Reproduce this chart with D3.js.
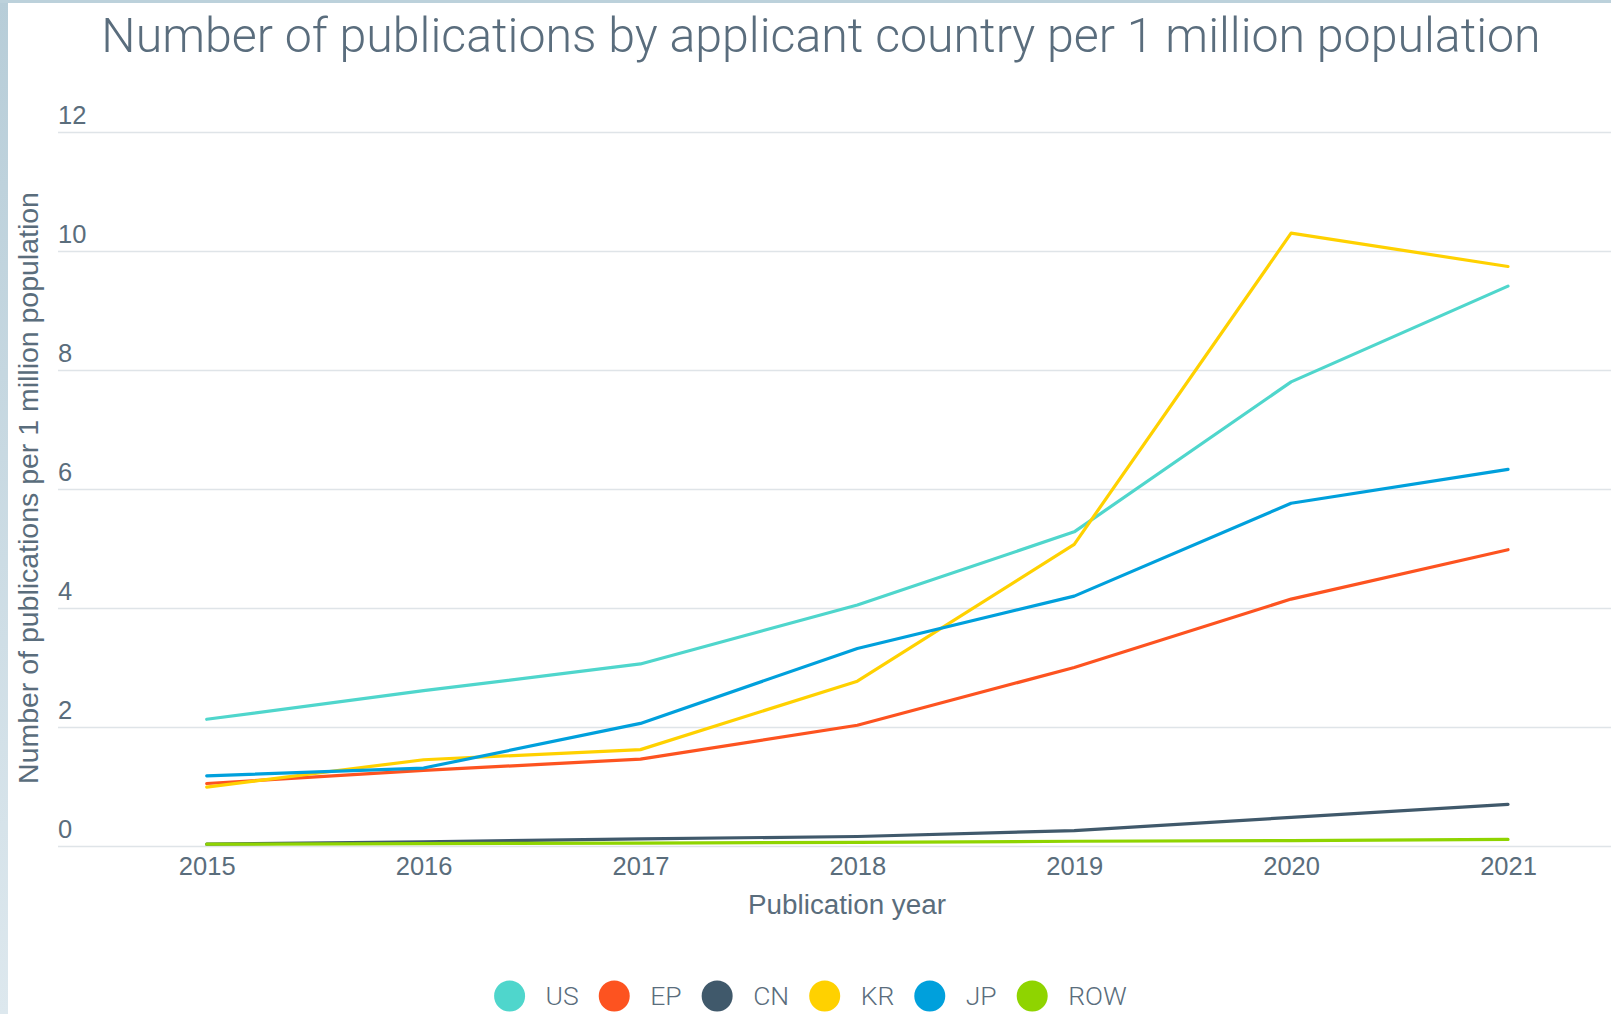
<!DOCTYPE html>
<html>
<head>
<meta charset="utf-8">
<script src="https://cdn.jsdelivr.net/npm/d3@7"></script>
<style>
  html, body { margin: 0; padding: 0; background: #ffffff; }
  svg { display: block; }
</style>
</head>
<body>
<svg id="chart" width="1611" height="1014"></svg>
<script>
// ---- Data ----
const years = [2015, 2016, 2017, 2018, 2019, 2020, 2021];
const seriesNames = ["US", "EP", "CN", "KR", "JP", "ROW"];
const usValues  = [2.13, 2.61, 3.06, 4.05, 5.28, 7.80, 9.41];
const epValues  = [1.05, 1.27, 1.46, 2.03, 3.00, 4.15, 4.98];
const cnValues  = [0.03, 0.07, 0.12, 0.16, 0.26, 0.48, 0.70];
const krValues  = [0.99, 1.45, 1.62, 2.77, 5.07, 10.30, 9.74];
const jpValues  = [1.18, 1.31, 2.06, 3.32, 4.20, 5.76, 6.33];
const rowValues = [0.03, 0.04, 0.05, 0.06, 0.08, 0.09, 0.11];
const yTicks = [0, 2, 4, 6, 8, 10, 12];
const seriesColors = ["#4fd6cc", "#fd5320", "#40596b", "#ffd100", "#00a0dc", "#8fd400"];

const titleText = "Number of publications by applicant country per 1 million population";
const xTitle = "Publication year";
const yTitle = "Number of publications per 1 million population";

const seriesValues = [usValues, epValues, cnValues, krValues, jpValues, rowValues];
const series = seriesNames.map((name, i) => ({
  name, color: seriesColors[i],
  points: years.map((yr, j) => ({ year: yr, value: seriesValues[i][j] }))
}));

// ---- Layout ----
const W = 1611, H = 1014;
const svg = d3.select("#chart");
const textColor = "#5a6d7c";
const baseFont = "'Liberation Sans', Arial, Helvetica, sans-serif";
const lightFont = "Roboto, 'Open Sans', 'Liberation Sans', sans-serif";

// frame (left / top bluish edge)
const defs = svg.append("defs");
const grad = defs.append("linearGradient").attr("id", "edge").attr("x1", 0).attr("y1", 0).attr("x2", 0).attr("y2", 1);
grad.append("stop").attr("offset", "0%").attr("stop-color", "#b7cdd8");
grad.append("stop").attr("offset", "100%").attr("stop-color", "#dde8ee");
svg.append("rect").attr("x", 0).attr("y", 0).attr("width", W).attr("height", H).attr("fill", "#ffffff");
svg.append("rect").attr("x", 0).attr("y", 0).attr("width", 8).attr("height", H).attr("fill", "url(#edge)");
svg.append("rect").attr("x", 0).attr("y", 0).attr("width", W).attr("height", 3).attr("fill", "#bcd1db");

const x = d3.scaleLinear().domain([2015, 2021]).range([206.7, 1508]);
const y = d3.scaleLinear().domain([0, 12]).range([846, 132]);

// gridlines + y labels
const yAxis = svg.append("g")
  .attr("transform", "translate(58,0)")
  .call(d3.axisRight(y).tickValues(yTicks).tickSize(W - 58).tickFormat(d3.format("d")));
yAxis.select(".domain").remove();
yAxis.selectAll(".tick line").attr("stroke", "#dfe4e8").attr("stroke-width", 1.5);
yAxis.selectAll(".tick text")
  .attr("x", 0).attr("y", 0).attr("dy", -9)
  .attr("text-anchor", "start")
  .attr("fill", textColor)
  .style("font-family", baseFont).style("font-size", "25.5px");

// x axis labels
const xAxis = svg.append("g")
  .attr("transform", "translate(0,846)")
  .call(d3.axisBottom(x).tickValues(years).tickSize(0).tickFormat(d3.format("d")));
xAxis.select(".domain").remove();
xAxis.selectAll(".tick text")
  .attr("y", 29).attr("dy", 0)
  .attr("fill", textColor)
  .style("font-family", baseFont).style("font-size", "25.5px");

// lines
const line = d3.line().x(d => x(d.year)).y(d => y(d.value));
svg.append("g").selectAll("path").data(series).join("path")
  .attr("d", d => line(d.points))
  .attr("fill", "none")
  .attr("stroke", d => d.color)
  .attr("stroke-width", 3.2)
  .attr("stroke-linejoin", "round")
  .attr("stroke-linecap", "round");

// title
const title = svg.append("text")
  .attr("x", 821).attr("y", 52)
  .attr("text-anchor", "middle")
  .attr("fill", "#5a6d7d")
  .style("font-family", lightFont).style("font-weight", 300).style("font-size", "50px")
  .text(titleText);
{
  const len = title.node().getComputedTextLength();
  title.style("font-size", (50 * 1440 / len) + "px");
}

// axis titles
const xt = svg.append("text")
  .attr("x", 847).attr("y", 914)
  .attr("text-anchor", "middle")
  .attr("fill", textColor)
  .style("font-family", baseFont).style("font-size", "26px")
  .text(xTitle);
{
  const len = xt.node().getComputedTextLength();
  xt.style("font-size", Math.min(28, 26 * 198 / len) + "px");
}

const yt = svg.append("text")
  .attr("transform", "translate(38,488) rotate(-90)")
  .attr("text-anchor", "middle")
  .attr("fill", textColor)
  .style("font-family", baseFont).style("font-size", "25px")
  .text(yTitle);
{
  const len = yt.node().getComputedTextLength();
  yt.style("font-size", (25 * 592 / len) + "px");
}

// legend
const legend = svg.append("g");
let cx = 509.6;
const ly = 996;
series.forEach(s => {
  legend.append("circle").attr("cx", cx).attr("cy", ly).attr("r", 15.5).attr("fill", s.color);
  const t = legend.append("text")
    .attr("x", cx + 36).attr("y", ly + 9)
    .attr("fill", textColor)
    .style("font-family", lightFont).style("font-weight", 300).style("font-size", "26.5px")
    .text(s.name);
  cx = cx + 36 + t.node().getComputedTextLength() + 35.5;
});
</script>
</body>
</html>
